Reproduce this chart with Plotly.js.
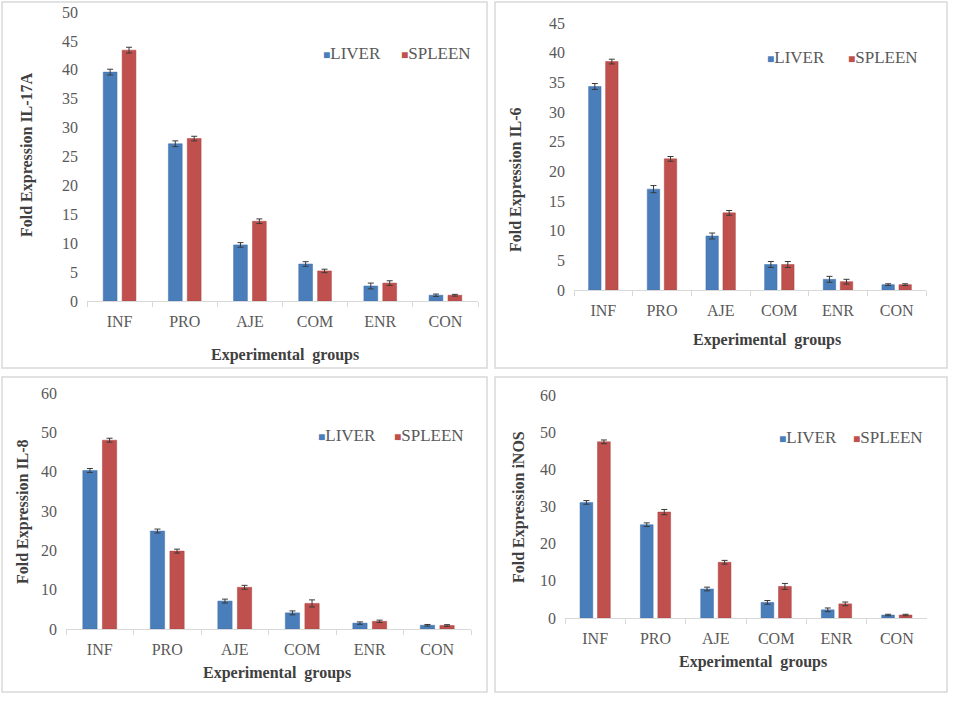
<!DOCTYPE html>
<html>
<head>
<meta charset="utf-8">
<script src="https://cdn.plot.ly/plotly-3.0.1.min.js"></script>
<style>
  body { margin: 0; background: #fff; }
  #chart { width: 957px; height: 702px; }
</style>
</head>
<body>
<div id="chart"></div>
<script>
var groups = ['INF', 'PRO', 'AJE', 'COM', 'ENR', 'CON'];
var seriesNames = ['LIVER', 'SPLEEN'];
var yTitles = ['Fold Expression IL-17A', 'Fold Expression IL-6', 'Fold Expression IL-8', 'Fold Expression iNOS'];

var il17Liver = [39.6, 27.2, 9.7, 6.4, 2.6, 1.0];
var il17Spleen = [43.4, 28.1, 13.8, 5.2, 3.1, 1.0];
var il17LiverErr = [0.5, 0.5, 0.4, 0.4, 0.5, 0.2];
var il17SpleenErr = [0.5, 0.4, 0.4, 0.3, 0.4, 0.15];

var il6Liver = [34.3, 17.0, 9.1, 4.3, 1.8, 0.9];
var il6Spleen = [38.5, 22.1, 13.0, 4.3, 1.4, 0.9];
var il6LiverErr = [0.5, 0.6, 0.5, 0.5, 0.5, 0.15];
var il6SpleenErr = [0.4, 0.4, 0.4, 0.5, 0.4, 0.15];

var il8Liver = [40.3, 24.9, 7.1, 4.1, 1.5, 0.95];
var il8Spleen = [48.0, 19.8, 10.6, 6.5, 1.95, 0.9];
var il8LiverErr = [0.5, 0.5, 0.5, 0.5, 0.3, 0.2];
var il8SpleenErr = [0.5, 0.5, 0.5, 0.9, 0.3, 0.2];

var inosLiver = [31.1, 25.1, 7.8, 4.2, 2.2, 0.8];
var inosSpleen = [47.4, 28.5, 15.0, 8.5, 3.8, 0.8];
var inosLiverErr = [0.5, 0.5, 0.5, 0.5, 0.5, 0.2];
var inosSpleenErr = [0.5, 0.7, 0.5, 0.8, 0.5, 0.2];

var W = 957, H = 702;
var blue = '#4a7ebb', red = '#c0504d';
var font = 'Liberation Serif';

function px(x) { return x / W; }
function py(y) { return 1 - y / H; }

// each panel: plot area in pixels, y range, tick step, title / legend spots
var panels = [
  {liver: il17Liver, spleen: il17Spleen, le: il17LiverErr, se: il17SpleenErr,
   x0: 87, x1: 478, y0: 301, y1: 12, ymax: 50, dtick: 5,
   xt: [285, 355], yt: [27, 155], leg: [322, 400, 54]},
  {liver: il6Liver, spleen: il6Spleen, le: il6LiverErr, se: il6SpleenErr,
   x0: 574, x1: 926, y0: 290, y1: 23, ymax: 45, dtick: 5,
   xt: [767, 340], yt: [516, 180], leg: [766, 847, 58]},
  {liver: il8Liver, spleen: il8Spleen, le: il8LiverErr, se: il8SpleenErr,
   x0: 66, x1: 471, y0: 629, y1: 393, ymax: 60, dtick: 10,
   xt: [277, 673], yt: [23, 512], leg: [317, 393, 435]},
  {liver: inosLiver, spleen: inosSpleen, le: inosLiverErr, se: inosSpleenErr,
   x0: 565, x1: 927, y0: 618, y1: 395, ymax: 60, dtick: 10,
   xt: [753, 662], yt: [519, 507], leg: [778, 852, 437]}
];

var borders = [[2, 2, 487, 368], [495, 2, 947, 368], [2, 377, 487, 692], [495, 377, 947, 692]];

var data = [];
var layout = {
  width: W, height: H,
  margin: {t: 0, l: 0, r: 0, b: 0},
  paper_bgcolor: '#fff', plot_bgcolor: 'rgba(0,0,0,0)',
  showlegend: false,
  barmode: 'group', bargap: 0.42, bargroupgap: 0.27,
  font: {family: font, size: 16, color: '#595959'},
  annotations: [], shapes: []
};

panels.forEach(function (p, i) {
  var n = i === 0 ? '' : String(i + 1);
  var errStyle = {type: 'data', visible: true, color: '#3a3a3a', thickness: 1, width: 3};
  data.push({
    type: 'bar', x: groups, y: p.liver, name: seriesNames[0],
    xaxis: 'x' + n, yaxis: 'y' + n,
    marker: {color: blue, line: {color: '#3f6fa8', width: 0.5}},
    error_y: Object.assign({array: p.le}, errStyle)
  });
  data.push({
    type: 'bar', x: groups, y: p.spleen, name: seriesNames[1],
    xaxis: 'x' + n, yaxis: 'y' + n,
    marker: {color: red, line: {color: '#a94441', width: 0.5}},
    error_y: Object.assign({array: p.se}, errStyle)
  });

  layout['xaxis' + n] = {
    domain: [px(p.x0), px(p.x1)], anchor: 'y' + n,
    type: 'category', tickson: 'boundaries', ticks: 'outside', ticklen: 5,
    tickcolor: '#d9d9d9', showline: true, linecolor: '#d9d9d9', linewidth: 1,
    showgrid: false, zeroline: false, fixedrange: true, ticklabelstandoff: 6,
    tickfont: {family: font, size: 16, color: '#595959'}
  };
  layout['yaxis' + n] = {
    domain: [py(p.y0), py(p.y1)], anchor: 'x' + n,
    range: [0, p.ymax], dtick: p.dtick, showgrid: false, zeroline: false,
    showline: false, ticks: '', ticklabelstandoff: 8,
    tickfont: {family: font, size: 16, color: '#595959'}
  };

  layout.annotations.push({
    xref: 'paper', yref: 'paper', x: px(p.xt[0]), y: py(p.xt[1]),
    text: '<b>Experimental  groups</b>', showarrow: false,
    xanchor: 'center', yanchor: 'middle',
    font: {family: font, size: 16, color: '#404040'}
  });
  layout.annotations.push({
    xref: 'paper', yref: 'paper', x: px(p.yt[0]), y: py(p.yt[1]),
    text: '<b>' + yTitles[i] + '</b>', showarrow: false, textangle: -90,
    xanchor: 'center', yanchor: 'middle',
    font: {family: font, size: 16, color: '#404040'}
  });
  [[p.leg[0], blue, seriesNames[0]], [p.leg[1], red, seriesNames[1]]].forEach(function (l) {
    layout.annotations.push({
      xref: 'paper', yref: 'paper', x: px(l[0] - 1), y: py(p.leg[2]),
      text: '<span style="color:' + l[1] + ';font-size:12px">■</span>' + l[2],
      showarrow: false, xanchor: 'left', yanchor: 'middle',
      font: {family: font, size: 17, color: '#595959'}
    });
  });
});

borders.forEach(function (b) {
  layout.shapes.push({
    type: 'rect', xref: 'paper', yref: 'paper',
    x0: px(b[0]), x1: px(b[2]), y0: py(b[3]), y1: py(b[1]),
    line: {color: '#d9d9d9', width: 1.5}
  });
});

Plotly.newPlot('chart', data, layout, {staticPlot: true});
</script>
</body>
</html>
